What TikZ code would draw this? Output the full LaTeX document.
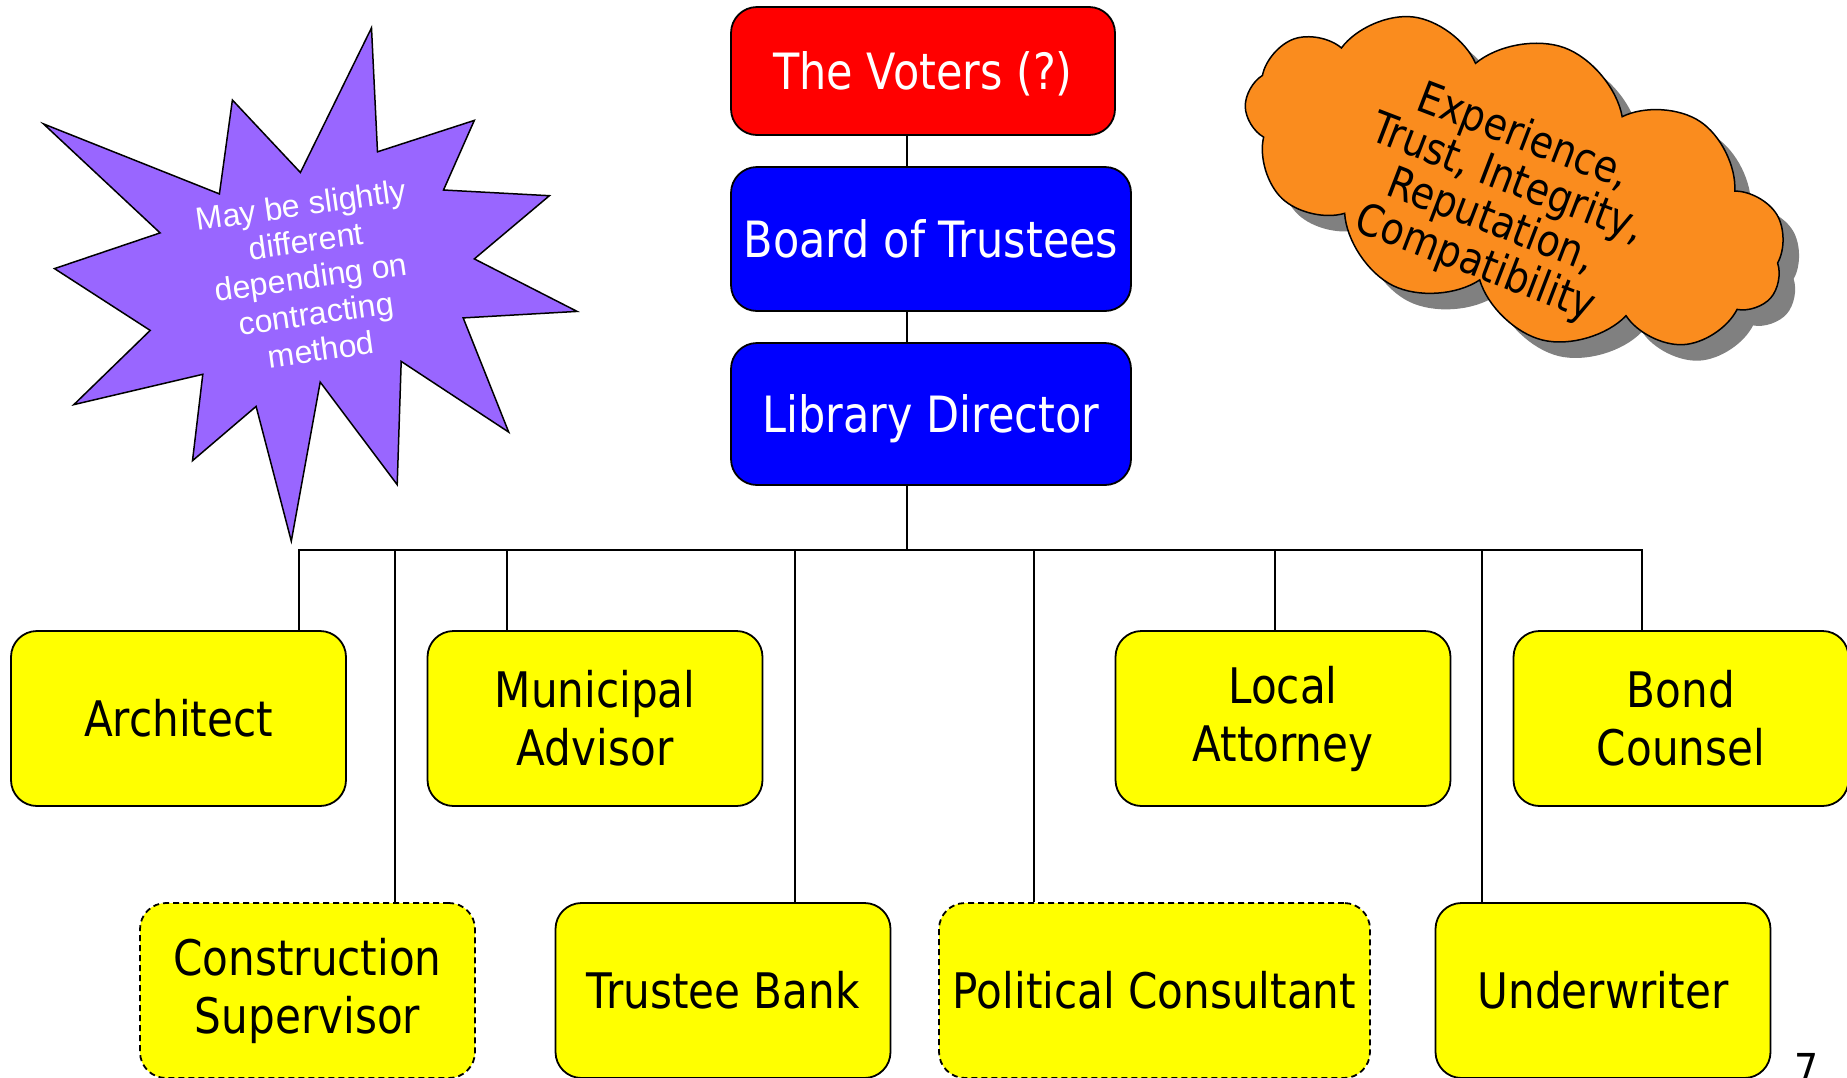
\documentclass[tikz,border=0pt]{standalone}
\usepackage{fontspec}
\newfontfamily\tah[FakeStretch=0.86]{DejaVu Sans}
\newfontfamily\arialf{Liberation Sans}
\usetikzlibrary{shapes.symbols,shadows}
\definecolor{starpurple}{RGB}{153,102,255}
\definecolor{cloudorange}{RGB}{250,140,30}
\definecolor{boxyellow}{RGB}{255,255,0}
\definecolor{boxblue}{RGB}{0,0,255}
\definecolor{boxred}{RGB}{255,0,0}
\definecolor{shadowgray}{RGB}{128,128,128}
\tikzset{
  orgbox/.style={draw=black, line width=1.8pt, rounded corners=26pt, align=center, inner sep=0pt, font=\tah\fontsize{49}{58}\selectfont},
  topbox/.style={orgbox, text=white, text height=36pt, text depth=0pt, font=\tah\fontsize{50}{58}\selectfont},
  rolebox/.style={orgbox, fill=boxyellow, text=black, minimum width=335pt, minimum height=175pt},
  optbox/.style={rolebox, dash pattern=on 6pt off 4pt},
  link/.style={draw=black, line width=1.8pt},
}
\begin{document}
\begin{tikzpicture}[x=1pt,y=-1pt]
\useasboundingbox (0,0) rectangle (1847,1077);

% starburst
\draw[fill=starpurple, line width=1.5pt, line join=miter]
  (371.5,27.9) -- (377.5,151.8) -- (474.3,120.4) -- (443.5,190) -- (549.4,195.7)
  -- (474.3,258.9) -- (577.1,311.4) -- (463.2,317.9) -- (508.7,432.1) -- (401.2,361.4)
  -- (397.2,484.6) -- (320.2,382.1) -- (291.3,541.1) -- (256.1,406.4) -- (192.5,460.7)
  -- (202.8,374.3) -- (73.9,404.6) -- (150.2,330.4) -- (54.5,268.6) -- (160.1,232.9)
  -- (43.5,123.9) -- (219.4,193.9) -- (232.4,100) -- (300.4,172.5) -- cycle;
\node[rotate=8, text=white, align=center, font=\arialf\fontsize{32}{36.5}\selectfont] (startext) at (311,277)
  {May be slightly\\different\\depending on\\contracting\\method};

% cloud
\node[cloud, cloud puffs=11, cloud puff arc=120, aspect=2, minimum width=565pt, minimum height=288pt,
  draw=black, line width=1.5pt, fill=cloudorange, rotate=-20,
  drop shadow={shadow xshift=16pt, shadow yshift=-16pt, fill=shadowgray, opacity=1}] (cloud) at (1515,183) {};
\node[rotate=-21, align=center, font=\tah\fontsize{44}{45}\selectfont] (cloudtext) at (1499,201)
  {Experience,\\Trust, Integrity,\\Reputation,\\Compatibility};

% top chain
\node[topbox, fill=boxred, minimum width=384pt, minimum height=128pt] (voters) at (923,71) {The Voters (?)};
\node[topbox, fill=boxblue, minimum width=400pt, minimum height=144pt] (board) at (931,239) {Board of Trustees};
\node[topbox, fill=boxblue, minimum width=400pt, minimum height=142pt] (director) at (931,414) {Library Director};

% row 1
\node[rolebox] (architect) at (178.5,718.5) {Architect};
\node[rolebox] (municipal) at (595,718.5) {Municipal\\Advisor};
\node[rolebox] (attorney) at (1283,718.5) {Local\\Attorney};
\node[rolebox] (bond) at (1681,718.5) {Bond\\Counsel};
% row 2
\node[optbox] (construction) at (307.5,990.5) {Construction\\Supervisor};
\node[rolebox] (bank) at (723,990.5) {Trustee Bank};
\node[optbox, minimum width=431pt] (political) at (1154.5,990.5) {Political Consultant};
\node[rolebox] (underwriter) at (1603,990.5) {Underwriter};

% connectors
\coordinate (trunk) at (907,550);
\draw[link] (voters.south -| trunk) -- (board.north -| trunk);
\draw[link] (board.south -| trunk) -- (director.north -| trunk);
\draw[link] (director.south -| trunk) -- (trunk);
\coordinate (dA) at (299,550);
\coordinate (dC) at (395,550);
\coordinate (dM) at (507,550);
\coordinate (dT) at (795,550);
\coordinate (dP) at (1034,550);
\coordinate (dL) at (1275,550);
\coordinate (dU) at (1482,550);
\coordinate (dB) at (1642,550);
\draw[link] (dA |- architect.north) -- (dA) -- (dB) -- (dB |- bond.north);
\draw[link] (dC) -- (dC |- construction.north);
\draw[link] (dM) -- (dM |- municipal.north);
\draw[link] (dT) -- (dT |- bank.north);
\draw[link] (dP) -- (dP |- political.north);
\draw[link] (dL) -- (dL |- attorney.north);
\draw[link] (dU) -- (dU |- underwriter.north);

% page number
\node[anchor=north west, inner sep=0pt, font=\tah\fontsize{44}{48}\selectfont] (pagenum) at (1794,1053) {7};
\end{tikzpicture}
\end{document}
